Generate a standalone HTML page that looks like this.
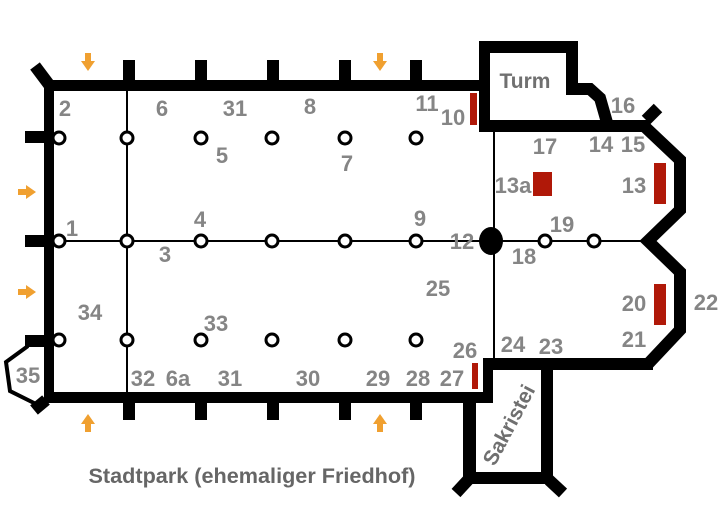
<!DOCTYPE html>
<html><head><meta charset="utf-8"><style>
html,body{margin:0;padding:0;background:#fff;width:728px;height:516px;overflow:hidden}
text{font-family:"Liberation Sans",sans-serif;font-weight:bold;fill:#858585;font-size:22px}
</style></head><body>
<svg width="728" height="516" viewBox="0 0 728 516" xmlns="http://www.w3.org/2000/svg">
<g fill="#000">
<rect x="44" y="80" width="440" height="11"/>
<rect x="44" y="80" width="10" height="323"/>
<rect x="44" y="392" width="449" height="11"/>
<rect x="483" y="358" width="10" height="45"/>
<rect x="123" y="60" width="12" height="22"/><rect x="195" y="60" width="12" height="22"/><rect x="267" y="60" width="12" height="22"/><rect x="339" y="60" width="12" height="22"/><rect x="410" y="60" width="12" height="22"/>
<rect x="123" y="400" width="12" height="20"/><rect x="195" y="400" width="12" height="20"/><rect x="267" y="400" width="12" height="20"/><rect x="339" y="400" width="12" height="20"/><rect x="410" y="400" width="12" height="20"/>
<rect x="25" y="131" width="22" height="12"/><rect x="25" y="235" width="22" height="12"/><rect x="25" y="335" width="22" height="12"/>
<rect x="479" y="41" width="99" height="12"/>
<rect x="479" y="41" width="11" height="91"/>
<rect x="566" y="41" width="12" height="52"/>
<rect x="479" y="120" width="171" height="12"/>
<rect x="483" y="358" width="170" height="12"/>
<rect x="463" y="398" width="13" height="86"/>
<rect x="541" y="365" width="12" height="119"/>
<rect x="463" y="472" width="90" height="12"/>
</g>
<g fill="none" stroke="#000" stroke-width="12" stroke-linejoin="miter">
<polyline points="566,89 590,89 600,98 608,126"/>
<polyline points="644,126 680,160 680,210 648,241 680,272 680,330 648,364 650,364"/>
<line x1="50" y1="86" x2="35" y2="66"/>
<line x1="46" y1="400" x2="34" y2="410"/>
<line x1="468" y1="480" x2="456" y2="493"/>
<line x1="549" y1="480" x2="563" y2="493"/>
<line x1="646" y1="120" x2="658" y2="108"/>
</g>
<polyline points="28,346 6,362 10,391 36,404" fill="none" stroke="#000" stroke-width="4"/>
<g stroke="#000" stroke-width="2">
<line x1="127" y1="90" x2="127" y2="393"/>
<line x1="494" y1="130" x2="494" y2="359"/>
<line x1="50" y1="241" x2="644" y2="241"/>
</g>
<g fill="#fff" stroke="#000" stroke-width="3">
<circle cx="59" cy="138" r="6"/><circle cx="127" cy="138" r="6"/><circle cx="201" cy="138" r="6"/><circle cx="272" cy="138" r="6"/><circle cx="345" cy="138" r="6"/><circle cx="416" cy="138" r="6"/>
<circle cx="59" cy="241" r="6"/><circle cx="127" cy="241" r="6"/><circle cx="201" cy="241" r="6"/><circle cx="272" cy="241" r="6"/><circle cx="345" cy="241" r="6"/><circle cx="416" cy="241" r="6"/>
<circle cx="59" cy="340" r="6"/><circle cx="127" cy="340" r="6"/><circle cx="201" cy="340" r="6"/><circle cx="272" cy="340" r="6"/><circle cx="345" cy="340" r="6"/><circle cx="416" cy="340" r="6"/>
<circle cx="545" cy="241" r="6"/><circle cx="594" cy="241" r="6"/>
</g>
<ellipse cx="491" cy="241" rx="12" ry="14" fill="#000"/>
<g fill="#b01808">
<rect x="470" y="93" width="7" height="32"/>
<rect x="533" y="172" width="19" height="24"/>
<rect x="654" y="163" width="12" height="41"/>
<rect x="654" y="284" width="12" height="41"/>
<rect x="472" y="363" width="6" height="26"/>
</g>
<g fill="#f0a030">
<path d="M85,53h6v8h4l-7,10l-7,-10h4z"/>
<path d="M377,53h6v8h4l-7,10l-7,-10h4z"/>
<path d="M85,432h6v-8h4l-7,-10l-7,10h4z"/>
<path d="M377,432h6v-8h4l-7,-10l-7,10h4z"/>
<path d="M18,189v6h8v4l10,-7l-10,-7v4z"/>
<path d="M18,289v6h8v4l10,-7l-10,-7v4z"/>
</g>
<g text-anchor="middle">
<text x="65" y="116">2</text><text x="162" y="116">6</text><text x="235" y="116">31</text><text x="310" y="114">8</text>
<text x="427" y="111">11</text><text x="453" y="125">10</text>
<text x="222" y="163">5</text><text x="347" y="171">7</text>
<text x="545" y="154">17</text><text x="601" y="152">14</text><text x="633" y="152">15</text><text x="623" y="113">16</text>
<text x="513" y="193">13a</text><text x="634" y="193">13</text>
<text x="72" y="236">1</text><text x="200" y="227">4</text><text x="420" y="226">9</text>
<text x="165" y="262">3</text><text x="462" y="249">12</text><text x="562" y="232">19</text><text x="524" y="264">18</text>
<text x="438" y="296">25</text><text x="90" y="320">34</text><text x="216" y="331">33</text>
<text x="634" y="311">20</text><text x="706" y="310">22</text><text x="634" y="347">21</text>
<text x="465" y="358">26</text><text x="513" y="352">24</text><text x="551" y="354">23</text>
<text x="28" y="383">35</text><text x="143" y="386">32</text><text x="178" y="386">6a</text><text x="230" y="386">31</text>
<text x="308" y="386">30</text><text x="378" y="386">29</text><text x="418" y="386">28</text><text x="452" y="386">27</text>
<text x="525" y="88" style="fill:#707070;font-size:21px">Turm</text>
<text x="0" y="0" transform="translate(509,425) rotate(-62)" style="fill:#707070;font-size:21px" dy="7">Sakristei</text>
<text x="252" y="483" style="fill:#666;font-size:21px" textLength="327" lengthAdjust="spacingAndGlyphs">Stadtpark (ehemaliger Friedhof)</text>
</g>
</svg>
</body></html>
